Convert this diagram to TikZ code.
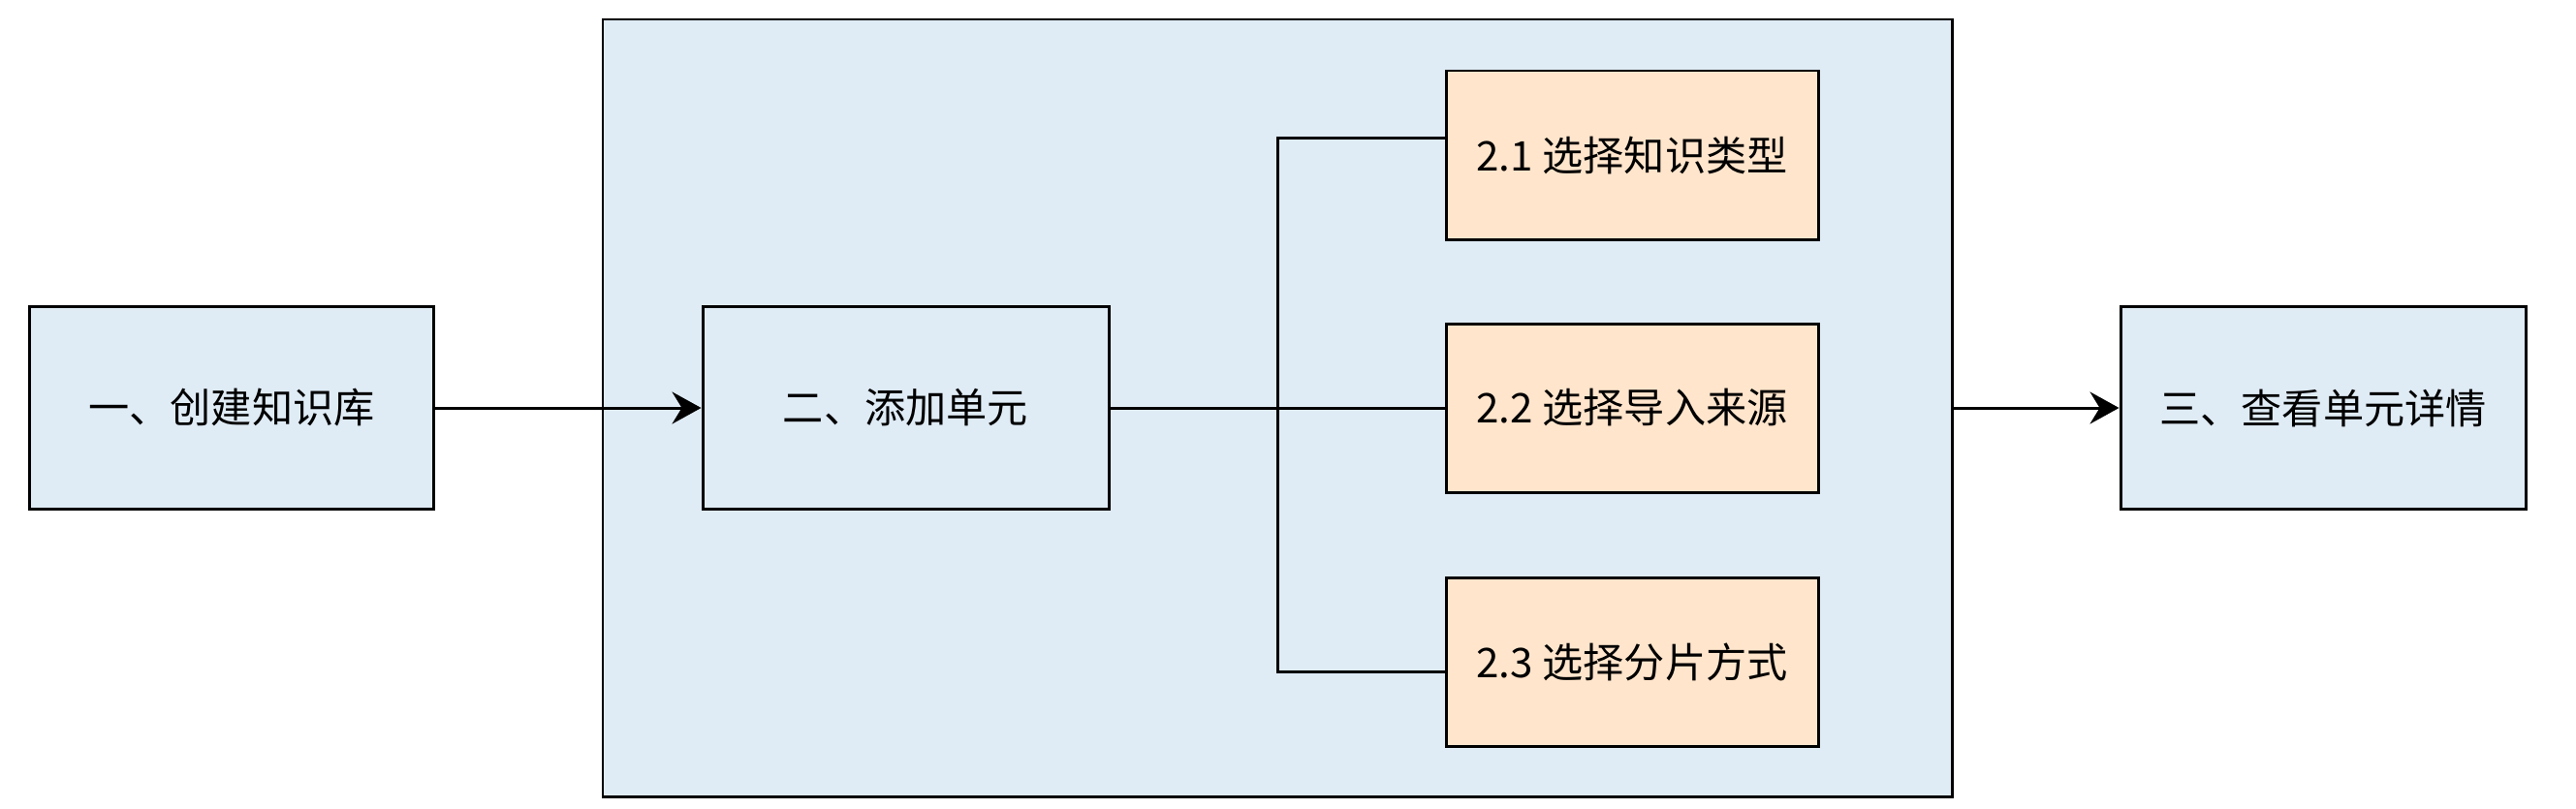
\documentclass[tikz,border=0pt]{standalone}
\usepackage{fontspec}
\setmainfont{Noto Sans CJK SC}
\usetikzlibrary{arrows.meta}
\definecolor{stepblue}{HTML}{DFEBF5}
\definecolor{suborange}{HTML}{FFE5CC}

\begin{document}
\begin{tikzpicture}[line width=0.85pt, font=\fontsize{12pt}{14pt}\selectfont,
    stepbox/.style={rectangle, draw, fill=stepblue, minimum width=4.17cm, minimum height=2.09cm, inner sep=0pt},
    subbox/.style={rectangle, draw, fill=suborange, minimum width=3.84cm, minimum height=1.74cm, inner sep=0pt},
    arr/.style={-{Stealth[length=3mm, width=3.3mm, inset=1mm]}}]
    \useasboundingbox (0,0) rectangle (26.58,-8.34);

    \node[rectangle, draw, fill=stepblue, minimum width=13.92cm, minimum height=8.02cm] at (13.18, -4.21) (group) {};

    \node[stepbox] at (2.39, -4.21) (kb) {一、创建知识库};
    \node[stepbox, minimum width=4.19cm] at (9.345, -4.21) (unit) {二、添加单元};
    \node[stepbox, minimum width=4.18cm] at (23.97, -4.21) (detail) {三、查看单元详情};

    \node[subbox] at (16.84, -1.60) (kind) {2.1 选择知识类型};
    \node[subbox] at (16.84, -4.21) (source) {2.2 选择导入来源};
    \node[subbox] at (16.84, -6.83) (split) {2.3 选择分片方式};

    \coordinate (fork) at (13.18, -4.21);

    \draw[arr] (kb) -- (unit);
    \draw[arr] (group.east |- detail) -- (detail);
    \draw (unit) -- (fork);
    \draw ([yshift=1.75mm]kind.west) -| (fork) |- ([yshift=-1mm]split.west);
    \draw (fork) -- (source);
  \end{tikzpicture}
\end{document}
